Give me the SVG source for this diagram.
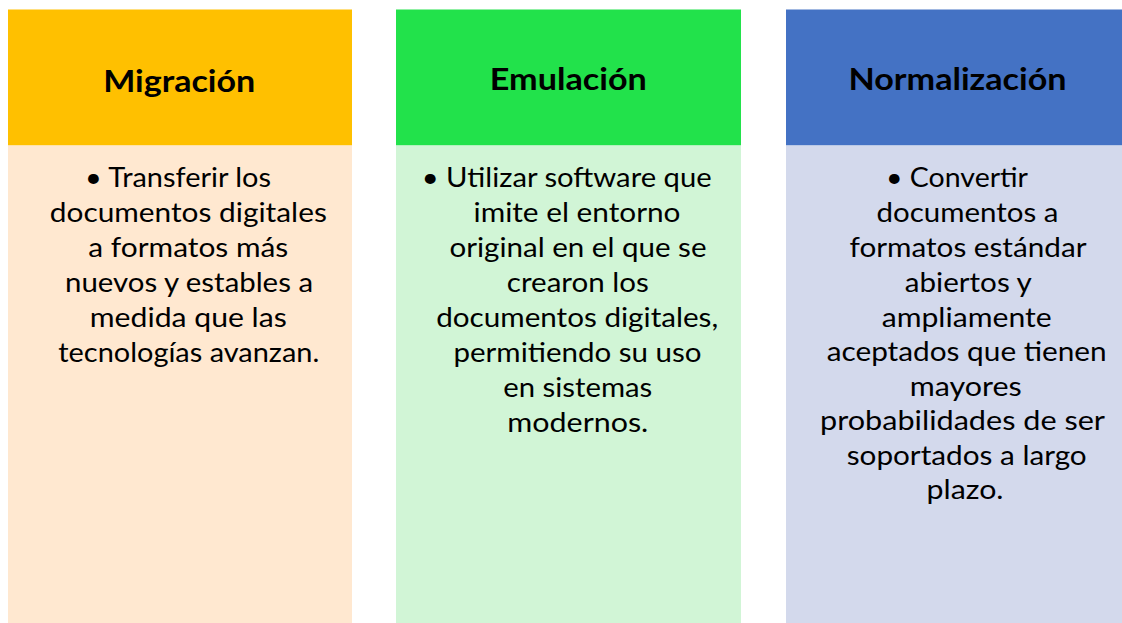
<svg xmlns="http://www.w3.org/2000/svg" width="1122" height="623" viewBox="0 0 1122 623">
<style>
.h{font-family:Lato,"Liberation Sans",sans-serif;font-weight:bold;font-size:31px;fill:#000;text-anchor:middle}
.b{font-family:Lato,"Liberation Sans",sans-serif;font-size:27px;fill:#000;text-anchor:middle}
</style>
<rect width="1122" height="623" fill="#fff"/>
<g id="migracion">
<rect x="8" y="9.5" width="344" height="136" fill="#FFC000"/>
<rect x="8" y="145.5" width="344" height="478" fill="#FFE8D0"/>
<text class="h" x="179.2" y="92" textLength="152" lengthAdjust="spacingAndGlyphs">Migración</text>
<text class="b" x="178" y="187" textLength="186" lengthAdjust="spacingAndGlyphs">• Transferir los</text>
<text class="b" x="188.3" y="222" textLength="277" lengthAdjust="spacingAndGlyphs">documentos digitales</text>
<text class="b" x="188.3" y="257" textLength="200" lengthAdjust="spacingAndGlyphs">a formatos más</text>
<text class="b" x="189" y="292" textLength="248" lengthAdjust="spacingAndGlyphs">nuevos y estables a</text>
<text class="b" x="188.3" y="327" textLength="197" lengthAdjust="spacingAndGlyphs">medida que las</text>
<text class="b" x="188.8" y="362" textLength="261" lengthAdjust="spacingAndGlyphs">tecnologías avanzan.</text>
</g>
<g id="emulacion">
<rect x="396" y="9.5" width="345" height="136" fill="#22E24B"/>
<rect x="396" y="145.5" width="345" height="478" fill="#D1F5D6"/>
<text class="h" x="568.3" y="90" textLength="157" lengthAdjust="spacingAndGlyphs">Emulación</text>
<text class="b" x="566.7" y="187" textLength="290" lengthAdjust="spacingAndGlyphs">• Utilizar software que</text>
<text class="b" x="577" y="222" textLength="207" lengthAdjust="spacingAndGlyphs">imite el entorno</text>
<text class="b" x="578" y="257" textLength="257" lengthAdjust="spacingAndGlyphs">original en el que se</text>
<text class="b" x="577.8" y="292" textLength="142" lengthAdjust="spacingAndGlyphs">crearon los</text>
<text class="b" x="577.2" y="327" textLength="282" lengthAdjust="spacingAndGlyphs">documentos digitales,</text>
<text class="b" x="577.5" y="362" textLength="248" lengthAdjust="spacingAndGlyphs">permitiendo su uso</text>
<text class="b" x="577.8" y="397" textLength="149" lengthAdjust="spacingAndGlyphs">en sistemas</text>
<text class="b" x="577.8" y="432" textLength="141" lengthAdjust="spacingAndGlyphs">modernos.</text>
</g>
<g id="normalizacion">
<rect x="786" y="9.5" width="344" height="136" fill="#4472C4"/>
<rect x="786" y="145.5" width="344" height="478" fill="#D3D9EC"/>
<text class="h" x="957.5" y="90" textLength="218" lengthAdjust="spacingAndGlyphs">Normalización</text>
<text class="b" x="957" y="187" textLength="142" lengthAdjust="spacingAndGlyphs">• Convertir</text>
<text class="b" x="967.5" y="222" textLength="182" lengthAdjust="spacingAndGlyphs">documentos a</text>
<text class="b" x="968" y="257" textLength="237" lengthAdjust="spacingAndGlyphs">formatos estándar</text>
<text class="b" x="968.3" y="291.5" textLength="127" lengthAdjust="spacingAndGlyphs">abiertos y</text>
<text class="b" x="966.7" y="326.5" textLength="170" lengthAdjust="spacingAndGlyphs">ampliamente</text>
<text class="b" x="966.7" y="361" textLength="280" lengthAdjust="spacingAndGlyphs">aceptados que tienen</text>
<text class="b" x="965.8" y="395.5" textLength="112" lengthAdjust="spacingAndGlyphs">mayores</text>
<text class="b" x="962.5" y="430" textLength="285" lengthAdjust="spacingAndGlyphs">probabilidades de ser</text>
<text class="b" x="966.7" y="464.5" textLength="240" lengthAdjust="spacingAndGlyphs">soportados a largo</text>
<text class="b" x="965" y="499" textLength="77" lengthAdjust="spacingAndGlyphs">plazo.</text>
</g>
<g id="connectors"/>
</svg>
